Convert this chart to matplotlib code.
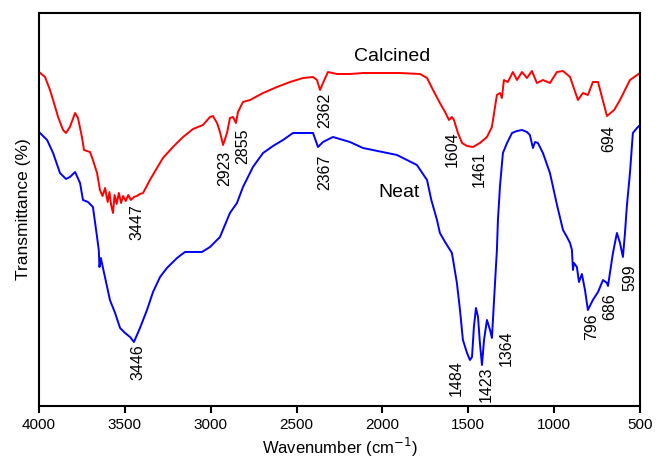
import matplotlib
matplotlib.use("Agg")
import matplotlib.pyplot as plt

plt.rcParams['font.family'] = ['Liberation Sans', 'DejaVu Sans']

# Calcined spectrum (wavenumber, transmittance a.u.)
calc_wn = [4000, 3965, 3936, 3918, 3889, 3860, 3843, 3820, 3790, 3773, 3750, 3738,
           3703, 3686, 3662, 3645,
           3630, 3615, 3600, 3590, 3580, 3569, 3560, 3548, 3535, 3522, 3510, 3495,
           3480, 3465, 3447, 3430, 3412, 3394, 3354, 3313, 3278, 3220, 3161, 3103,
           3045, 3004, 2987, 2963, 2946, 2928, 2905, 2888, 2870, 2853, 2841, 2812,
           2771, 2695, 2614, 2538, 2462, 2404, 2381, 2363, 2346, 2317, 2264, 2189,
           2113, 1900, 1781, 1740, 1705, 1665, 1635, 1612, 1595, 1583, 1560, 1536,
           1507, 1472, 1432, 1391, 1362, 1344, 1333, 1315, 1304, 1292,
           1269, 1240, 1216, 1187, 1158, 1129, 1100, 1065, 1024, 983, 948, 907,
           861, 832, 803, 774, 744, 721, 692, 650, 616, 558, 500]
calc_t = [334, 329, 316, 306, 289, 276, 273, 279, 293, 288, 269, 256,
          254, 246, 233, 216,
          210, 218, 204, 214, 201, 193, 211, 202, 213, 203, 210, 205,
          211, 206, 209, 210, 212, 213, 226, 238, 248, 259, 269, 277,
          281, 289, 290, 283, 274, 261, 273, 288, 289, 283, 294, 304,
          306, 313, 319, 324, 328, 329, 326, 316, 323, 334, 332, 332,
          333, 333, 332, 328, 316, 303, 294, 286, 289, 286, 273, 263,
          260, 259, 263, 269, 279, 299, 311, 313, 308, 326,
          324, 334, 326, 334, 328, 335, 323, 326, 323, 334, 335, 329,
          306, 313, 311, 324, 324, 309, 290, 296, 306, 326, 333]

# Neat spectrum
neat_wn = [4000, 3953, 3918, 3878, 3843, 3820, 3790, 3761, 3744, 3715, 3686, 3662,
           3652, 3648, 3640, 3616, 3587, 3557, 3528, 3499, 3470, 3447, 3412, 3371,
           3336, 3295, 3255, 3196, 3150, 3103, 3051, 3004, 2946, 2888, 2847, 2812,
           2754, 2695, 2637, 2579, 2521, 2462, 2404, 2375, 2346, 2288, 2189, 2113,
           1915, 1799, 1740, 1715, 1682, 1665, 1635, 1595, 1566, 1548, 1531, 1507,
           1490, 1478, 1467, 1455, 1443, 1432, 1420, 1408, 1391, 1373, 1362, 1344,
           1333, 1327, 1315, 1298, 1274, 1245, 1216, 1187, 1158, 1141, 1123, 1111,
           1094, 1065, 1024, 983, 948, 925, 907, 896, 890, 884, 867, 855,
           838, 820, 803, 774, 744, 715, 692, 686, 657, 634, 616, 599,
           587, 576, 558, 541, 517, 500]
neat_t = [274, 266, 253, 233, 227, 229, 234, 223, 206, 204, 199, 169,
          156, 139, 148, 129, 106, 93, 78, 73, 69, 64, 78, 96,
          114, 129, 138, 148, 154, 154, 154, 159, 169, 193, 203, 219,
          239, 253, 260, 266, 273, 273, 273, 259, 264, 269, 264, 258,
          251, 241, 226, 206, 186, 173, 164, 153, 123, 96, 66, 53,
          46, 49, 79, 98, 89, 63, 41, 66, 86, 76, 68, 123,
          156, 186, 220, 253, 263, 273, 275, 276, 274, 271, 258, 264,
          263, 253, 233, 201, 176, 169, 163, 156, 136, 143, 139, 124,
          132, 116, 96, 106, 114, 126, 123, 120, 153, 173, 163, 149,
          173, 200, 233, 273, 278, 281]

# peak labels: text, x, y
calc_labels = [("3447", 3429, 184), ("2923", 2917, 238), ("2855", 2812, 260),
               ("2362", 2334, 296), ("1604", 1595, 257), ("1461", 1437, 237),
               ("694", 680, 267)]
neat_labels = [("3446", 3423, 44), ("2367", 2334, 234), ("1484", 1571, 28),
               ("1423", 1397, 22), ("1364", 1280, 58), ("796", 779, 79),
               ("686", 675, 99), ("599", 558, 128)]

fig = plt.figure(figsize=(6.57, 4.66), dpi=100)
ax = fig.add_axes([0.0594, 0.1288, 0.9146, 0.8433])

ax.plot(calc_wn, calc_t, color='#ff0000', lw=1.4)
ax.plot(neat_wn, neat_t, color='#0000ff', lw=1.4)

for txt, x, y in calc_labels + neat_labels:
    ax.text(x, y, txt, rotation=90, ha='center', va='center', fontsize=11.5)

ax.text(1944, 349, "Calcined", ha='center', va='center', fontsize=14)
ax.text(1903, 213, "Neat", ha='center', va='center', fontsize=14)

ax.set_xlim(4000, 500)
ax.set_ylim(0, 393)
ax.set_xticks([4000, 3500, 3000, 2500, 2000, 1500, 1000, 500])
ax.set_yticks([])
ax.tick_params(axis='x', direction='out', length=5, width=1.5, labelsize=11)
for s in ax.spines.values():
    s.set_linewidth(1.5)

ax.set_xlabel("Wavenumber (cm$^{-1}$)", fontsize=12, labelpad=3)
ax.set_ylabel("Transmittance (%)", fontsize=12.5, labelpad=6)

fig.savefig("out.png", dpi=100)
